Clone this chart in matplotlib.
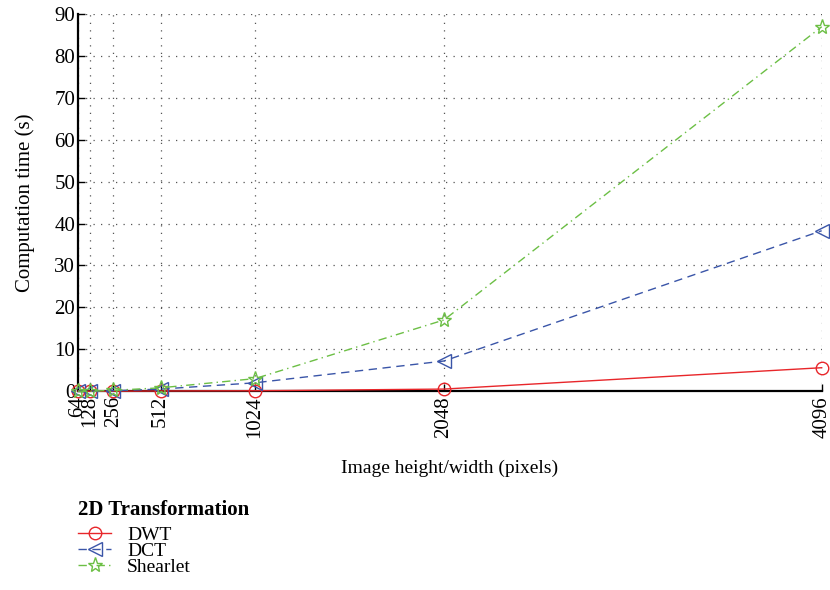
import matplotlib
matplotlib.use("Agg")
import matplotlib.pyplot as plt

sizes = [64, 128, 256, 512, 1024, 2048, 4096]
dwt = [0.0, 0.0, 0.0, 0.05, 0.1, 0.5, 5.6]
dct = [0.0, 0.0, 0.1, 0.5, 2.0, 7.2, 38.3]
shearlet = [0.0, 0.0, 0.2, 0.8, 3.0, 17.0, 87.0]
yticks = list(range(0, 91, 10))

plt.rcParams["font.family"] = ["Liberation Serif", "DejaVu Serif"]

fig = plt.figure(figsize=(8.3, 5.9), dpi=100)
ax = fig.add_axes([0.094, 0.337, 0.896, 0.639])

ax.plot(sizes, dwt, color="#e8262a", ls="-", lw=1.0, marker="o", ms=9,
        mfc="none", mec="#e8262a", label="DWT", clip_on=False, zorder=3)
ax.plot(sizes, dct, color="#3a55a8", ls=(0, (6, 4)), lw=1.0, marker="<", ms=10,
        mfc="none", mec="#3a55a8", label="DCT", clip_on=False, zorder=3)
ax.plot(sizes, shearlet, color="#6cbf45", ls=(0, (6, 3, 1, 3)), lw=1.0, marker="*", ms=11,
        mfc="none", mec="#6cbf45", label="Shearlet", clip_on=False, zorder=3)

ax.set_xlim(64, 4096)
ax.set_ylim(0, 90)
ax.set_xticks(sizes)
ax.set_xticklabels([str(s) for s in sizes], rotation=90, fontsize=15)
ax.set_yticks(yticks)
ax.tick_params(axis="y", labelsize=15, pad=2)
ax.tick_params(direction="in", length=5, width=1)
ax.grid(True, ls=(0, (1, 5)), color="#555555", lw=0.9)

for s in ["top", "right"]:
    ax.spines[s].set_visible(False)
for s in ["left", "bottom"]:
    ax.spines[s].set_linewidth(1.6)

ax.set_ylabel("Computation time (s)", fontsize=15, labelpad=14)
ax.set_xlabel("Image height/width (pixels)", fontsize=14, labelpad=16)

leg = ax.legend(title="2D Transformation", loc="upper left", bbox_to_anchor=(-0.01, -0.269),
                frameon=False, fontsize=14, title_fontsize=15, handlelength=1.7,
                handletextpad=0.8, labelspacing=-0.1, borderaxespad=0)
leg.get_title().set_fontweight("bold")
leg._legend_box.align = "left"
leg._legend_box.sep = 4.5  # gap between title and entries (pt)

fig.savefig("out.png", dpi=100)
